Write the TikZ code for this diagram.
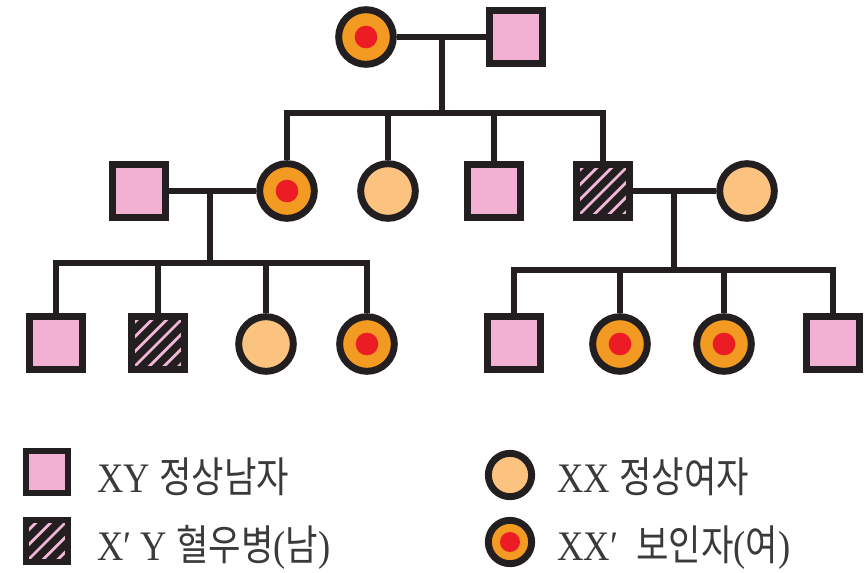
\documentclass[tikz,border=0pt]{standalone}
\usepackage{fontspec}
\setmainfont{Liberation Serif}[FakeStretch=0.87]
\newfontfamily\kr[FakeStretch=0.84]{Noto Sans CJK KR}
\definecolor{malepink}{HTML}{F2B1D3}
\definecolor{femaletan}{HTML}{FCC27F}
\definecolor{carrierorange}{HTML}{F39A22}
\definecolor{dotred}{HTML}{EC1C24}
\definecolor{stripepink}{HTML}{F0B6D6}
\definecolor{inkblack}{HTML}{231F20}
\definecolor{textgray}{HTML}{3A3A3A}
\begin{document}
\begin{tikzpicture}[
            x=0.75pt, y=-0.75pt,
            link/.style={draw=inkblack,line width=4.4pt},
            male-node/.style={rectangle,draw=inkblack,line width=5.2pt,fill=malepink,minimum size=39.5pt,inner sep=0pt},
            female-node/.style={circle,draw=inkblack,line width=5.2pt,fill=femaletan,minimum size=41pt,inner sep=0pt},
            carrier-node/.style={female-node,fill=carrierorange,
                path picture={\fill[dotred] (path picture bounding box.center) circle (#1);}},
            carrier-node/.default=8.5pt,
            hemo-node/.style={male-node,fill=inkblack,
                path picture={\foreach \k in {-44,-33,...,44}
                    \draw[stripepink,line width=2.1pt] ([xshift=\k pt]path picture bounding box.south west) -- ++(45:70pt);}},
            key-text/.style={font=\fontsize{31.5}{34}\selectfont,text=textgray,inner sep=0pt,anchor=base west},
        ]
            \useasboundingbox (0,0) rectangle (865,572);

            % first generation
            \node[carrier-node] (i-1) at (366,37) {};
            \node[male-node] (i-2) at (516,37) {};
            \coordinate (m1) at (442,37);
            \coordinate (s1) at (442,113);

            % second generation
            \node[male-node] (ii-1) at (139,191) {};
            \node[carrier-node] (ii-2) at (287,191) {};
            \node[female-node] (ii-3) at (388,191) {};
            \node[male-node] (ii-4) at (494,191) {};
            \node[hemo-node] (ii-5) at (603,191) {};
            \node[female-node] (ii-6) at (747,191) {};
            \coordinate (m2) at (210,191);
            \coordinate (s2) at (210,263);
            \coordinate (m3) at (674,191);
            \coordinate (s3) at (674,270);

            % third generation
            \node[male-node] (iii-1) at (56,343) {};
            \node[hemo-node] (iii-2) at (158,343) {};
            \node[female-node] (iii-3) at (266,344) {};
            \node[carrier-node] (iii-4) at (367,344) {};
            \node[male-node] (iii-5) at (514,343) {};
            \node[carrier-node] (iii-6) at (620,344) {};
            \node[carrier-node] (iii-7) at (724,344) {};
            \node[male-node] (iii-8) at (833,343) {};

            % couples and their children
            \draw[link] (i-1) -- (i-2);
            \draw[link] (m1) -- (s1);
            \draw[link] (ii-2.north) |- (ii-5.north |- s1) -- (ii-5.north);
            \draw[link] (ii-3.north) -- (ii-3.north |- s1);
            \draw[link] (ii-4.north) -- (ii-4.north |- s1);

            \draw[link] (ii-1) -- (ii-2);
            \draw[link] (m2) -- (s2);
            \draw[link] (iii-1.north) |- (iii-4.north |- s2) -- (iii-4.north);
            \draw[link] (iii-2.north) -- (iii-2.north |- s2);
            \draw[link] (iii-3.north) -- (iii-3.north |- s2);

            \draw[link] (ii-5) -- (ii-6);
            \draw[link] (m3) -- (s3);
            \draw[link] (iii-5.north) |- (iii-8.north |- s3) -- (iii-8.north);
            \draw[link] (iii-6.north) -- (iii-6.north |- s3);
            \draw[link] (iii-7.north) -- (iii-7.north |- s3);

            % key
            \node[male-node,minimum size=31.5pt] (k-male) at (47,472) {};
            \node[hemo-node,minimum size=31.5pt] (k-hemo) at (47,541) {};
            \node[female-node,minimum size=32.5pt] (k-female) at (510,475) {};
            \node[carrier-node=7.5pt,minimum size=32.5pt] (k-carrier) at (510,542) {};
            \node[key-text] (t-male) at (97,492) {XY {\kr 정상남자}};
            \node[key-text] (t-hemo) at (97,560) {X′ Y {\kr 혈우병}({\kr 남})};
            \node[key-text] (t-female) at (557,492) {XX {\kr 정상여자}};
            \node[key-text] (t-carrier) at (557,560) {XX′\ \ {\kr 보인자}({\kr 여})};
        \end{tikzpicture}
\end{document}
